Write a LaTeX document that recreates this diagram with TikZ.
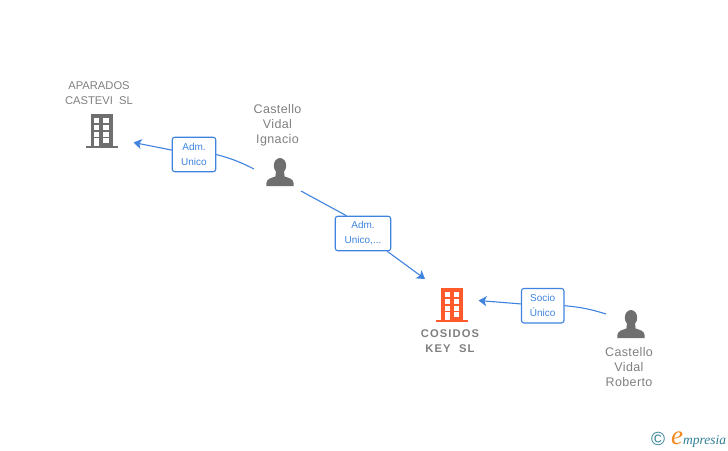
\documentclass[tikz,border=0pt]{standalone}
\usepackage{fontspec}
\setmainfont{Liberation Sans}
\newfontfamily\logofont{Liberation Serif}
\newfontfamily\widefont[LetterSpace=10]{Liberation Sans}
\newfontfamily\namefont[LetterSpace=3]{Liberation Sans}
\usetikzlibrary{arrows.meta}
\definecolor{linkblue}{HTML}{3F83DF}
\definecolor{icongray}{HTML}{6F6F6F}
\definecolor{iconorange}{HTML}{FF5A2B}
\definecolor{labelgray}{HTML}{7F7F7F}
\definecolor{logoteal}{HTML}{2F7F96}
\definecolor{logoorange}{HTML}{F08A1D}
\begin{document}
\begin{tikzpicture}[x=1pt,y=-1pt]
  \tikzset{
    relbox/.style={draw=linkblue, line width=1.1pt, rounded corners=2.5pt, fill=white, text=linkblue, align=center, inner sep=0pt, font=\fontsize{10}{15}\selectfont},
    personname/.style={text=labelgray, align=center, inner sep=0pt, font=\namefont\fontsize{12.5}{15}\selectfont},
    firmname/.style={text=labelgray, align=center, inner sep=0pt, font=\fontsize{11.2}{15}\selectfont},
    relline/.style={color=linkblue, line width=1.1pt},
    relarrow/.style={-{Stealth[length=8pt,width=10pt,inset=2pt]}},
    building/.pic={
      \fill (-11,-32) rectangle (11,0);
      \fill (-16,0) rectangle (16,2);
      \foreach \wy in {-27.7,-21,-14.3,-8} {
        \fill[white] (-7.4,\wy) rectangle (-2.2,{\wy+4.9});
        \fill[white] (1.8,\wy) rectangle (7,{\wy+4.9});
      }
      \fill[white] (-7.4,-8) rectangle (-2.2,0);
    },
    person/.pic={
      \fill (0,-20.3) ellipse (6.2 and 7.7);
      \fill (-4,-15) -- (4,-15) -- (4.6,-9.5) .. controls (8,-8.2) and (13.5,-7.5) .. (13.7,-2.5) -- (13.7,0) -- (-13.7,0) -- (-13.7,-2.5) .. controls (-13.5,-7.5) and (-8,-8.2) .. (-4.6,-9.5) -- cycle;
    }
  }
  \useasboundingbox (0,0) rectangle (728,450);

  % icons
  \pic[icongray] at (101.5,146) {building};
  \pic[iconorange] at (452,320) {building};
  \pic[icongray] at (280,186) {person};
  \pic[icongray] at (631,338) {person};

  % names
  \node[firmname] at (99,93.5) (aparados) {APARADOS\\CASTEVI\ \ SL};
  \node[firmname] at (450,341.5) (cosidos) {\bfseries\widefont COSIDOS\\\bfseries\widefont KEY\ \ SL};
  \node[personname] at (277.5,125.5) (ignacio) {Castello\\Vidal\\Ignacio};
  \node[personname] at (629,367.5) (roberto) {Castello\\Vidal\\Roberto};

  % free ends of the links
  \coordinate (startA) at (254,169);
  \coordinate (startB) at (301,191);
  \coordinate (startC) at (606,314);
  \coordinate (tipA) at (133.5,142.5);
  \coordinate (tipB) at (425,279);
  \coordinate (tipC) at (478.5,300.5);

  % relation boxes
  \node[relbox, minimum width=43.5pt, minimum height=34.5pt] at (194,154.5) (relA) {Adm.\\Unico};
  \node[relbox, minimum width=55.5pt, minimum height=34.5pt] at (363,233.5) (relB) {Adm.\\Unico,...};
  \node[relbox, minimum width=42.5pt, minimum height=34.5pt] at (542.7,305.7) (relC) {Socio\\Único};

  \path[relline] (startA) edge[bend right=6] (relA.east);
  \path[relline, relarrow] (relA) edge (tipA);
  \path[relline] (startB) edge (relB.133);
  \path[relline, relarrow] (relB) edge (tipB);
  \path[relline] (startC) edge[bend right=6] (relC.east);
  \path[relline, relarrow] (relC) edge (tipC);

  % logo
  \node[text=logoteal, inner sep=0pt, font=\fontsize{19}{19}\selectfont] at (658,439) (copyr) {©};
  \node[text=logoorange, inner sep=0pt, font=\logofont\itshape\fontsize{27}{27}\selectfont, anchor=base] at (677,444) (logoe) {e};
  \node[text=logoteal, inner sep=0pt, font=\logofont\itshape\fontsize{13.5}{15}\selectfont, anchor=base west] at (683,444) (logotext) {mpresia};
\end{tikzpicture}
\end{document}
